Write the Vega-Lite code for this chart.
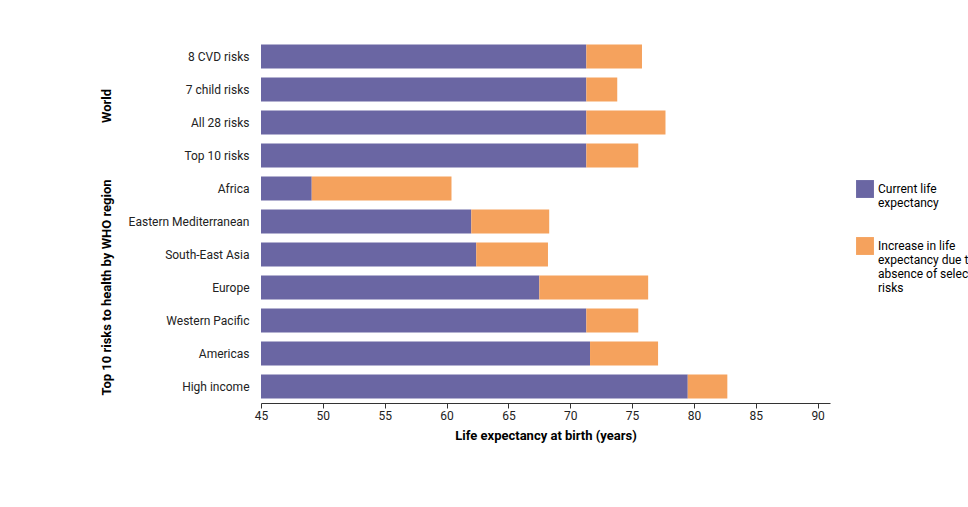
{
  "$schema": "https://vega.github.io/schema/vega-lite/v6.json",
  "padding": {"left": 100, "top": 40, "right": 10, "bottom": 10},
  "background": "white",
  "config": {
    "font": "Roboto",
    "view": {"stroke": null},
    "axis": {"labelFont": "Roboto", "titleFont": "Roboto", "labelFontSize": 12, "labelColor": "#222", "domainColor": "#333", "tickColor": "#333"}
  },
  "data": {
    "values": [
      {"group": "World", "risk": "8 CVD risks", "series": "Current life expectancy", "start": 45, "end": 71.3},
      {"group": "World", "risk": "8 CVD risks", "series": "Increase", "start": 71.3, "end": 75.8},
      {"group": "World", "risk": "7 child risks", "series": "Current life expectancy", "start": 45, "end": 71.3},
      {"group": "World", "risk": "7 child risks", "series": "Increase", "start": 71.3, "end": 73.8},
      {"group": "World", "risk": "All 28 risks", "series": "Current life expectancy", "start": 45, "end": 71.3},
      {"group": "World", "risk": "All 28 risks", "series": "Increase", "start": 71.3, "end": 77.7},
      {"group": "World", "risk": "Top 10 risks", "series": "Current life expectancy", "start": 45, "end": 71.3},
      {"group": "World", "risk": "Top 10 risks", "series": "Increase", "start": 71.3, "end": 75.5},
      {"group": "Top 10 risks to health by WHO region", "risk": "Africa", "series": "Current life expectancy", "start": 45, "end": 49.1},
      {"group": "Top 10 risks to health by WHO region", "risk": "Africa", "series": "Increase", "start": 49.1, "end": 60.4},
      {"group": "Top 10 risks to health by WHO region", "risk": "Eastern Mediterranean", "series": "Current life expectancy", "start": 45, "end": 62.0},
      {"group": "Top 10 risks to health by WHO region", "risk": "Eastern Mediterranean", "series": "Increase", "start": 62.0, "end": 68.3},
      {"group": "Top 10 risks to health by WHO region", "risk": "South-East Asia", "series": "Current life expectancy", "start": 45, "end": 62.4},
      {"group": "Top 10 risks to health by WHO region", "risk": "South-East Asia", "series": "Increase", "start": 62.4, "end": 68.2},
      {"group": "Top 10 risks to health by WHO region", "risk": "Europe", "series": "Current life expectancy", "start": 45, "end": 67.5},
      {"group": "Top 10 risks to health by WHO region", "risk": "Europe", "series": "Increase", "start": 67.5, "end": 76.3},
      {"group": "Top 10 risks to health by WHO region", "risk": "Western Pacific", "series": "Current life expectancy", "start": 45, "end": 71.3},
      {"group": "Top 10 risks to health by WHO region", "risk": "Western Pacific", "series": "Increase", "start": 71.3, "end": 75.5},
      {"group": "Top 10 risks to health by WHO region", "risk": "Americas", "series": "Current life expectancy", "start": 45, "end": 71.6},
      {"group": "Top 10 risks to health by WHO region", "risk": "Americas", "series": "Increase", "start": 71.6, "end": 77.1},
      {"group": "Top 10 risks to health by WHO region", "risk": "High income", "series": "Current life expectancy", "start": 45, "end": 79.5},
      {"group": "Top 10 risks to health by WHO region", "risk": "High income", "series": "Increase", "start": 79.5, "end": 82.7}
    ]
  },
  "facet": {
    "row": {
      "field": "group", "type": "nominal",
      "sort": ["World", "Top 10 risks to health by WHO region"],
      "title": null,
      "header": {"labelAngle": -90, "labelOrient": "left", "labelFontWeight": "bold", "labelFontSize": 13, "labelFont": "Roboto", "labelPadding": 8}
    }
  },
  "spacing": 0,
  "resolve": {"scale": {"y": "independent"}},
  "spec": {
    "width": 569,
    "height": {"step": 33},
    "mark": {"type": "bar", "size": 24},
    "encoding": {
      "y": {"field": "risk", "type": "nominal", "sort": null, "title": null,
        "axis": {"domain": false, "ticks": false, "labelPadding": 12}},
      "x": {"field": "start", "type": "quantitative", "scale": {"domain": [45, 91], "nice": false},
        "title": "Life expectancy at birth (years)",
        "axis": {"values": [45, 50, 55, 60, 65, 70, 75, 80, 85, 90], "grid": false, "titleFontSize": 13, "titleFontWeight": "bold", "titlePadding": 8, "labelFlush": false}},
      "x2": {"field": "end"},
      "color": {"field": "series", "type": "nominal",
        "scale": {"domain": ["Current life expectancy", "Increase"], "range": ["#6a66a3", "#f5a25d"]},
        "legend": {"title": null, "orient": "none", "legendX": 595, "legendY": 140, "symbolType": "square", "symbolSize": 320, "symbolStrokeWidth": 0, "labelFontSize": 12, "labelFont": "Roboto", "rowPadding": 28, "labelLimit": 200,
          "labelExpr": "datum.label == 'Increase' ? ['Increase in life', 'expectancy due to', 'absence of selected', 'risks'] : ['Current life', 'expectancy']"}}
    }
  }
}
